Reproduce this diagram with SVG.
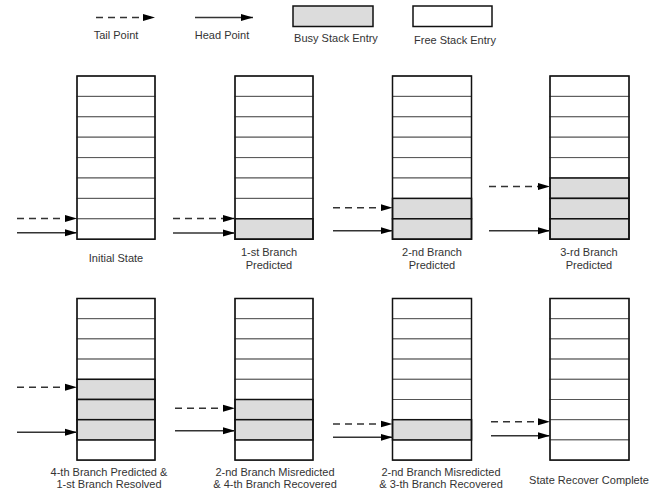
<svg xmlns="http://www.w3.org/2000/svg" width="670" height="489" viewBox="0 0 670 489">
<defs>
<marker id="ah" markerUnits="userSpaceOnUse" markerWidth="12" markerHeight="8" refX="12" refY="4" orient="auto">
<path d="M0,0.5 L12,4 L0,7.5 z" fill="#000"/>
</marker>
<style>
.t{font-family:"Liberation Sans",Arial,sans-serif;font-size:11px;fill:#333;text-anchor:middle}
.free{fill:#fff;stroke:#555;stroke-width:1}
.busy{fill:#dcdcdc;stroke:#111;stroke-width:1.5}
.outer{fill:none;stroke:#111;stroke-width:1.5}
.tail{stroke:#333;stroke-width:1.4;stroke-dasharray:7,5;fill:none;marker-end:url(#ah)}
.head{stroke:#333;stroke-width:1.4;fill:none;marker-end:url(#ah)}
</style>
</defs>
<rect width="670" height="489" fill="#fff"/>

<g id="legend">
<line class="tail" x1="96" y1="17.5" x2="155" y2="17.5"/>
<text class="t" x="116" y="39">Tail Point</text>
<line class="head" x1="195" y1="17.5" x2="253" y2="17.5"/>
<text class="t" x="222" y="39">Head Point</text>
<rect x="293" y="6" width="80" height="20.5" fill="#dcdcdc" stroke="#111" stroke-width="1.5"/>
<text class="t" x="336" y="42">Busy Stack Entry</text>
<rect x="413" y="6" width="79" height="20.5" fill="#fff" stroke="#111" stroke-width="1.5"/>
<text class="t" x="455" y="44">Free Stack Entry</text>
</g>

<g id="s1">
<rect class="free" x="77" y="76" width="78" height="20.4"/>
<rect class="free" x="77" y="96.4" width="78" height="20.4"/>
<rect class="free" x="77" y="116.8" width="78" height="20.4"/>
<rect class="free" x="77" y="137.2" width="78" height="20.4"/>
<rect class="free" x="77" y="157.6" width="78" height="20.4"/>
<rect class="free" x="77" y="178" width="78" height="20.4"/>
<rect class="free" x="77" y="198.4" width="78" height="20.4"/>
<rect class="free" x="77" y="218.8" width="78" height="20.4"/>
<rect class="outer" x="77" y="76" width="78" height="163.2"/>
<text class="t" x="116" y="261.5">Initial State</text>
</g>

<g id="s2">
<rect class="free" x="235" y="76" width="78" height="20.4"/>
<rect class="free" x="235" y="96.4" width="78" height="20.4"/>
<rect class="free" x="235" y="116.8" width="78" height="20.4"/>
<rect class="free" x="235" y="137.2" width="78" height="20.4"/>
<rect class="free" x="235" y="157.6" width="78" height="20.4"/>
<rect class="free" x="235" y="178" width="78" height="20.4"/>
<rect class="free" x="235" y="198.4" width="78" height="20.4"/>
<rect class="busy" x="235" y="218.8" width="78" height="20.4"/>
<rect class="outer" x="235" y="76" width="78" height="163.2"/>
<text class="t" x="269" y="256">1-st Branch</text>
<text class="t" x="269" y="268.5">Predicted</text>
</g>

<g id="s3">
<rect class="free" x="392.5" y="76" width="79" height="20.4"/>
<rect class="free" x="392.5" y="96.4" width="79" height="20.4"/>
<rect class="free" x="392.5" y="116.8" width="79" height="20.4"/>
<rect class="free" x="392.5" y="137.2" width="79" height="20.4"/>
<rect class="free" x="392.5" y="157.6" width="79" height="20.4"/>
<rect class="free" x="392.5" y="178" width="79" height="20.4"/>
<rect class="busy" x="392.5" y="198.4" width="79" height="20.4"/>
<rect class="busy" x="392.5" y="218.8" width="79" height="20.4"/>
<rect class="outer" x="392.5" y="76" width="79" height="163.2"/>
<text class="t" x="432" y="256">2-nd Branch</text>
<text class="t" x="432" y="268.5">Predicted</text>
</g>

<g id="s4">
<rect class="free" x="550" y="76" width="79" height="20.4"/>
<rect class="free" x="550" y="96.4" width="79" height="20.4"/>
<rect class="free" x="550" y="116.8" width="79" height="20.4"/>
<rect class="free" x="550" y="137.2" width="79" height="20.4"/>
<rect class="free" x="550" y="157.6" width="79" height="20.4"/>
<rect class="busy" x="550" y="178" width="79" height="20.4"/>
<rect class="busy" x="550" y="198.4" width="79" height="20.4"/>
<rect class="busy" x="550" y="218.8" width="79" height="20.4"/>
<rect class="outer" x="550" y="76" width="79" height="163.2"/>
<text class="t" x="589" y="256">3-rd Branch</text>
<text class="t" x="589" y="268.5">Predicted</text>
</g>

<g id="s5">
<rect class="free" x="77" y="298.5" width="78" height="20.2"/>
<rect class="free" x="77" y="318.7" width="78" height="20.2"/>
<rect class="free" x="77" y="338.9" width="78" height="20.2"/>
<rect class="free" x="77" y="359.1" width="78" height="20.2"/>
<rect class="free" x="77" y="439.9" width="78" height="20.2"/>
<rect class="busy" x="77" y="379.3" width="78" height="20.2"/>
<rect class="busy" x="77" y="399.5" width="78" height="20.2"/>
<rect class="busy" x="77" y="419.7" width="78" height="20.2"/>
<rect class="outer" x="77" y="298.5" width="78" height="161.6"/>
<text class="t" x="109" y="475.5">4-th Branch Predicted &amp;</text>
<text class="t" x="109" y="487.5">1-st Branch Resolved</text>
</g>

<g id="s6">
<rect class="free" x="235" y="298.5" width="78" height="20.2"/>
<rect class="free" x="235" y="318.7" width="78" height="20.2"/>
<rect class="free" x="235" y="338.9" width="78" height="20.2"/>
<rect class="free" x="235" y="359.1" width="78" height="20.2"/>
<rect class="free" x="235" y="379.3" width="78" height="20.2"/>
<rect class="free" x="235" y="439.9" width="78" height="20.2"/>
<rect class="busy" x="235" y="399.5" width="78" height="20.2"/>
<rect class="busy" x="235" y="419.7" width="78" height="20.2"/>
<rect class="outer" x="235" y="298.5" width="78" height="161.6"/>
<text class="t" x="275" y="475.5">2-nd Branch Misredicted</text>
<text class="t" x="275" y="487.5">&amp; 4-th Branch Recovered</text>
</g>

<g id="s7">
<rect class="free" x="392.5" y="298.5" width="79" height="20.2"/>
<rect class="free" x="392.5" y="318.7" width="79" height="20.2"/>
<rect class="free" x="392.5" y="338.9" width="79" height="20.2"/>
<rect class="free" x="392.5" y="359.1" width="79" height="20.2"/>
<rect class="free" x="392.5" y="379.3" width="79" height="20.2"/>
<rect class="free" x="392.5" y="399.5" width="79" height="20.2"/>
<rect class="free" x="392.5" y="439.9" width="79" height="20.2"/>
<rect class="busy" x="392.5" y="419.7" width="79" height="20.2"/>
<rect class="outer" x="392.5" y="298.5" width="79" height="161.6"/>
<text class="t" x="441" y="475.5">2-nd Branch Misredicted</text>
<text class="t" x="441" y="487.5">&amp; 3-th Branch Recovered</text>
</g>

<g id="s8">
<rect class="free" x="550" y="298.5" width="79" height="20.2"/>
<rect class="free" x="550" y="318.7" width="79" height="20.2"/>
<rect class="free" x="550" y="338.9" width="79" height="20.2"/>
<rect class="free" x="550" y="359.1" width="79" height="20.2"/>
<rect class="free" x="550" y="379.3" width="79" height="20.2"/>
<rect class="free" x="550" y="399.5" width="79" height="20.2"/>
<rect class="free" x="550" y="419.7" width="79" height="20.2"/>
<rect class="free" x="550" y="439.9" width="79" height="20.2"/>
<rect class="outer" x="550" y="298.5" width="79" height="161.6"/>
<text class="t" x="589" y="484">State Recover Complete</text>
</g>

<g id="connectors">
<line class="tail" x1="17" y1="218.5" x2="77" y2="218.5"/>
<line class="head" x1="17" y1="232.7" x2="77" y2="232.7"/>
<line class="tail" x1="173" y1="218.5" x2="235" y2="218.5"/>
<line class="head" x1="173" y1="233" x2="235" y2="233"/>
<line class="tail" x1="333" y1="207.7" x2="392.5" y2="207.7"/>
<line class="head" x1="333" y1="230.7" x2="392.5" y2="230.7"/>
<line class="tail" x1="489" y1="186.5" x2="550" y2="186.5"/>
<line class="head" x1="489" y1="230.7" x2="550" y2="230.7"/>
<line class="tail" x1="17" y1="387.3" x2="77" y2="387.3"/>
<line class="head" x1="17" y1="432.3" x2="77" y2="432.3"/>
<line class="tail" x1="175" y1="408.3" x2="235" y2="408.3"/>
<line class="head" x1="175" y1="430.7" x2="235" y2="430.7"/>
<line class="tail" x1="333" y1="424" x2="392.5" y2="424"/>
<line class="head" x1="333" y1="437.3" x2="392.5" y2="437.3"/>
<line class="tail" x1="491" y1="421.7" x2="550" y2="421.7"/>
<line class="head" x1="491" y1="435.7" x2="550" y2="435.7"/>
</g>
</svg>
